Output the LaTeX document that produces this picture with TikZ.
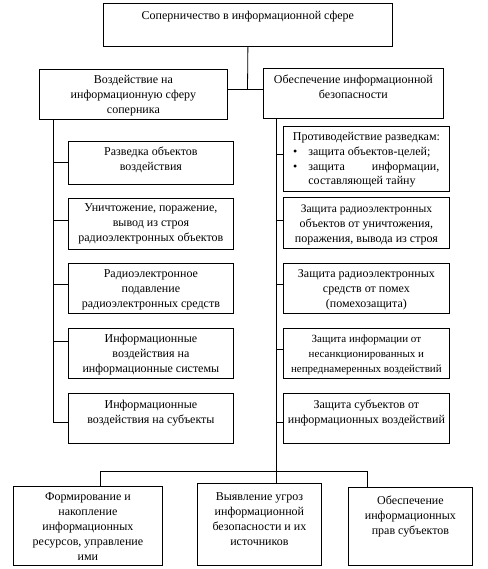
\documentclass[tikz,border=0pt]{standalone}
\usepackage{fontspec}
\setmainfont{Liberation Serif}
\newcommand\cellbox[4]{\parbox[t][#2][t]{#1}{\fontsize{12}{15}\selectfont\hyphenpenalty=10000\centering\vspace*{#3}#4\par}}
\begin{document}
\begin{tikzpicture}[x=1pt,y=-1pt,
  bx/.style={draw, line width=0.8pt, inner sep=0pt, anchor=north west},
  conn/.style={draw, line width=0.8pt}]
\useasboundingbox (0,0) rectangle (487,569);
% top
\node[bx] (T) at (103,3) {\cellbox{289pt}{43pt}{8pt}{Соперничество в информационной сфере}};
\node[bx] (L0) at (39,69) {\cellbox{188pt}{50pt}{6pt}{Воздействие на\\ информационную сферу\\ соперника}};
\node[bx] (R0) at (263,68) {\cellbox{180pt}{50pt}{7pt}{Обеспечение информационной\\ безопасности}};
% left column
\node[bx] (C1) at (68,141) {\cellbox{165pt}{43pt}{6pt}{Разведка объектов\\ воздействия}};
\node[bx] (C2) at (68,198) {\cellbox{165pt}{51pt}{5pt}{Уничтожение, поражение,\\ вывод из строя\\ радиоэлектронных объектов}};
\node[bx] (C3) at (68,263) {\cellbox{165pt}{50pt}{6pt}{Радиоэлектронное\\ подавление\\ радиоэлектронных средств}};
\node[bx] (C4) at (68,328) {\cellbox{165pt}{50pt}{6pt}{Информационные\\ воздействия на\\ информационные системы}};
\node[bx] (C5) at (68,393) {\cellbox{165pt}{50pt}{7pt}{Информационные\\ воздействия на субъекты}};
% right column
\node[bx] (D1) at (283,126) {\parbox[t][65pt][t]{166pt}{\fontsize{12}{14.7}\selectfont\hyphenpenalty=10000\vspace*{6pt}%
  {\centering Противодействие разведкам:\par}
  \leftskip=25pt \rightskip=10pt \parindent=0pt
  \makebox[0pt][r]{\textbullet\hspace{11pt}}защита объектов-целей;\par
  \makebox[0pt][r]{\textbullet\hspace{11pt}}защита информации, составляющей тайну\par}};
\node[bx] (D2) at (283,197) {\cellbox{166pt}{51pt}{7pt}{{\fontsize{11.5}{15}\selectfont Защита радиоэлектронных}\\ объектов от уничтожения,\\ поражения, вывода из строя}};
\node[bx] (D3) at (283,263) {\cellbox{166pt}{50pt}{6pt}{Защита радиоэлектронных\\ средств от помех\\ (помехозащита)}};
\node[bx] (D4) at (283,328) {\cellbox{166pt}{50pt}{6pt}{\fontsize{11}{15}\selectfont Защита информации от\\ несанкционированных и\\ непреднамеренных воздействий}};
\node[bx] (D5) at (283,393) {\cellbox{166pt}{50pt}{7pt}{Защита субъектов от\\ информационных воздействий}};
% bottom
\node[bx] (B1) at (13,486) {\cellbox{149pt}{79pt}{6pt}{Формирование и\\ накопление\\ информационных\\ ресурсов, управление\\ ими}};
\node[bx] (B2) at (197,483) {\cellbox{124pt}{82pt}{9pt}{Выявление угроз\\ информационной\\ безопасности и их\\ источников}};
\node[bx] (B3) at (348,487) {\cellbox{124pt}{78pt}{9pt}{Обеспечение\\ информационных\\ прав субъектов}};
% junction coordinates
\coordinate (j) at (247.5,89);
\coordinate (a1) at (53,162);
\coordinate (a2) at (53,220);
\coordinate (a3) at (53,284);
\coordinate (a4) at (53,341);
\coordinate (a5) at (53,422);
\coordinate (b1) at (276,154);
\coordinate (b2) at (276,220);
\coordinate (b3) at (276,284);
\coordinate (b4) at (276,349);
\coordinate (b5) at (276,422);
\coordinate (s1) at (100,471);
\coordinate (s3) at (367,471);
% connectors
\draw[conn] (T.south) -- (j);
\draw[conn] (L0.east |- j) -- (R0.west |- j);
\draw[conn] (L0.south -| a1) -- (a5) -- (a5 -| C5.west);
\draw[conn] (a1) -- (a1 -| C1.west);
\draw[conn] (a2) -- (a2 -| C2.west);
\draw[conn] (a3) -- (a3 -| C3.west);
\draw[conn] (a4) -- (a4 -| C4.west);
\draw[conn] (R0.south -| b1) -- (b1 |- B2.north);
\draw[conn] (b1) -- (b1 -| D1.west);
\draw[conn] (b2) -- (b2 -| D2.west);
\draw[conn] (b3) -- (b3 -| D3.west);
\draw[conn] (b4) -- (b4 -| D4.west);
\draw[conn] (b5) -- (b5 -| D5.west);
\draw[conn] (s1 |- B1.north) -- (s1) -- (s3) -- (s3 |- B3.north);
\end{tikzpicture}
\end{document}
